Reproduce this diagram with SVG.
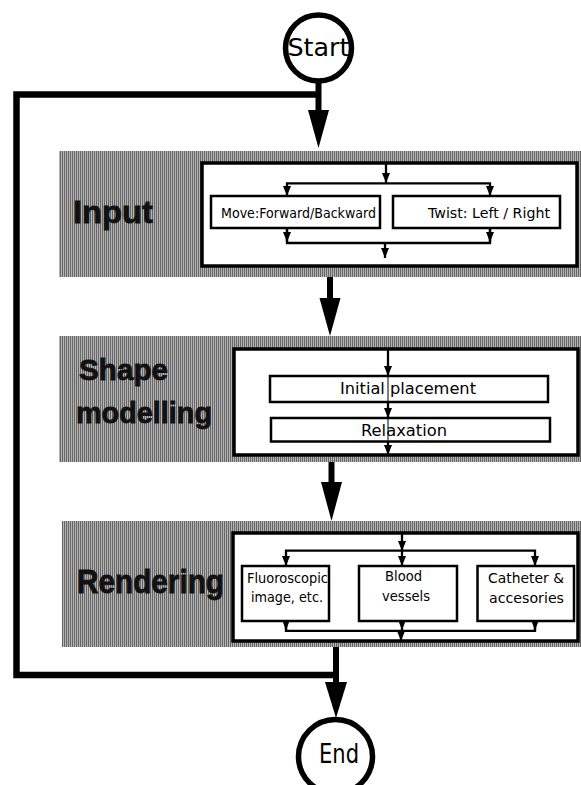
<svg xmlns="http://www.w3.org/2000/svg" width="581" height="785" viewBox="0 0 581 785">
<style>
.band{fill:url(#stripe)}
.panel{fill:#fff;stroke:#000;stroke-width:3.5}
.box{fill:#fff;stroke:#000;stroke-width:2.5}
.thin{fill:none;stroke:#000;stroke-width:2.3}
.thick{fill:none;stroke:#000;stroke-width:6.5}
.big{font-family:"Liberation Sans",Arial,sans-serif;font-weight:bold;fill:#111;stroke:#111;stroke-width:0.8}
.t{font-family:"DejaVu Sans","Liberation Sans",sans-serif;fill:#000}
.term{fill:#fff;stroke:#000;stroke-width:5.5}
</style>
<defs>
<pattern id="stripe" width="2" height="4" patternUnits="userSpaceOnUse">
<rect width="2" height="4" fill="#b4b4b4"/>
<rect width="1" height="4" fill="#666"/>
</pattern>
<marker id="sa" markerUnits="userSpaceOnUse" markerWidth="10" markerHeight="8" refX="10" refY="4" orient="auto-start-reverse" viewBox="0 0 10 8">
<path d="M0,0 L10,4 L0,8 Z" fill="#000"/>
</marker>
</defs>

<g id="input">
<rect class="band" x="59" y="151" width="522" height="126"/>
<text class="big" x="73" y="223" font-size="32" textLength="80" lengthAdjust="spacingAndGlyphs">Input</text>
<rect class="panel" x="202" y="163" width="375" height="103"/>
<g id="move">
<rect class="box" x="211" y="196" width="169" height="32"/>
<text class="t" x="221" y="218" font-size="14" textLength="155" lengthAdjust="spacingAndGlyphs">Move:Forward/Backward</text>
</g>
<g id="twist">
<rect class="box" x="393" y="196" width="167" height="32"/>
<text class="t" x="428" y="218" font-size="14" textLength="122" lengthAdjust="spacingAndGlyphs">Twist: Left / Right</text>
</g>
</g>

<g id="shape">
<rect class="band" x="59" y="336" width="522" height="126"/>
<text class="big" x="79" y="380" font-size="30" textLength="89" lengthAdjust="spacingAndGlyphs">Shape</text>
<text class="big" x="76" y="423" font-size="30" textLength="136" lengthAdjust="spacingAndGlyphs">modelling</text>
<rect class="panel" x="234" y="349" width="344" height="106"/>
<g id="initial">
<rect class="box" x="270" y="376" width="278" height="26"/>
<text class="t" x="340" y="394" font-size="16" textLength="136" lengthAdjust="spacingAndGlyphs">Initial placement</text>
</g>
<g id="relax">
<rect class="box" x="271" y="418" width="279" height="23.5"/>
<text class="t" x="361" y="435.5" font-size="16" textLength="86" lengthAdjust="spacingAndGlyphs">Relaxation</text>
</g>
</g>

<g id="rendering">
<rect class="band" x="62" y="521" width="519" height="126"/>
<text class="big" x="77" y="593" font-size="33" textLength="147" lengthAdjust="spacingAndGlyphs">Rendering</text>
<rect class="panel" x="233" y="533" width="345" height="108"/>
<g id="fluoro">
<rect class="box" x="242" y="566" width="87" height="55"/>
<text class="t" x="247" y="583" font-size="14" textLength="81" lengthAdjust="spacingAndGlyphs">Fluoroscopic</text>
<text class="t" x="251" y="602" font-size="14" textLength="72" lengthAdjust="spacingAndGlyphs">image, etc.</text>
</g>
<g id="blood">
<rect class="box" x="359" y="566" width="98" height="55"/>
<text class="t" x="385" y="581" font-size="14" textLength="37" lengthAdjust="spacingAndGlyphs">Blood</text>
<text class="t" x="382" y="601" font-size="14" textLength="48" lengthAdjust="spacingAndGlyphs">vessels</text>
</g>
<g id="catheter">
<rect class="box" x="477.5" y="566" width="96.5" height="55"/>
<text class="t" x="488" y="583" font-size="14" textLength="76" lengthAdjust="spacingAndGlyphs">Catheter &amp;</text>
<text class="t" x="489" y="603" font-size="14" textLength="75" lengthAdjust="spacingAndGlyphs">accesories</text>
</g>
</g>

<g id="start">
<circle class="term" cx="318.5" cy="48" r="33"/>
<text class="t" x="318.5" y="56" font-size="24" text-anchor="middle" textLength="62" lengthAdjust="spacingAndGlyphs">Start</text>
</g>
<g id="end">
<circle class="term" cx="335.5" cy="756.5" r="37"/>
<text class="t" x="339" y="763" font-size="26" text-anchor="middle" textLength="40" lengthAdjust="spacingAndGlyphs">End</text>
</g>

<g id="connectors">
<path class="thick" d="M318.5,94.5 H16.5 V675 H336"/>
<line x1="318.5" y1="81" x2="318.5" y2="112" stroke="#000" stroke-width="6"/>
<polygon points="308,110 329,110 318.5,148" fill="#000"/>
<line x1="330" y1="277" x2="330" y2="300" stroke="#000" stroke-width="6"/>
<polygon points="319.5,298 340.5,298 330,336" fill="#000"/>
<line x1="331.5" y1="462" x2="331.5" y2="484" stroke="#000" stroke-width="6"/>
<polygon points="321,482 342,482 331.5,521" fill="#000"/>
<line x1="336" y1="647" x2="336" y2="684" stroke="#000" stroke-width="6"/>
<polygon points="325,682 347,682 336,718" fill="#000"/>

<line class="thin" x1="386" y1="164" x2="386" y2="183" marker-end="url(#sa)"/>
<path class="thin" d="M287,196 V183.3 H490 V196" marker-start="url(#sa)" marker-end="url(#sa)"/>
<path class="thin" d="M287,228 V243 H490 V228"/>
<line class="thin" x1="287" y1="228" x2="287" y2="242" marker-end="url(#sa)"/>
<line class="thin" x1="490" y1="228" x2="490" y2="242" marker-end="url(#sa)"/>
<line class="thin" x1="385" y1="243" x2="385" y2="258" marker-end="url(#sa)"/>

<line class="thin" x1="388" y1="350" x2="388" y2="376" marker-end="url(#sa)"/>
<line class="thin" x1="388" y1="402" x2="388" y2="418" marker-end="url(#sa)"/>
<line class="thin" x1="388" y1="441.5" x2="388" y2="455" marker-end="url(#sa)"/>
<line x1="388" y1="377" x2="388" y2="401" stroke="#000" stroke-width="1"/>
<line x1="388" y1="419" x2="388" y2="440.5" stroke="#000" stroke-width="1"/>

<line class="thin" x1="402" y1="534" x2="402" y2="551" marker-end="url(#sa)"/>
<path class="thin" d="M286,566 V550.7 H535 V566" marker-start="url(#sa)" marker-end="url(#sa)"/>
<line class="thin" x1="402" y1="550.7" x2="402" y2="566" marker-end="url(#sa)"/>
<path class="thin" d="M286,621 V630.8 H535 V621"/>
<line class="thin" x1="286" y1="621" x2="286" y2="630" marker-end="url(#sa)"/>
<line class="thin" x1="402" y1="621" x2="402" y2="630" marker-end="url(#sa)"/>
<line class="thin" x1="535" y1="621" x2="535" y2="630" marker-end="url(#sa)"/>
<line class="thin" x1="401" y1="630.8" x2="401" y2="641" marker-end="url(#sa)"/>
</g>
</svg>
